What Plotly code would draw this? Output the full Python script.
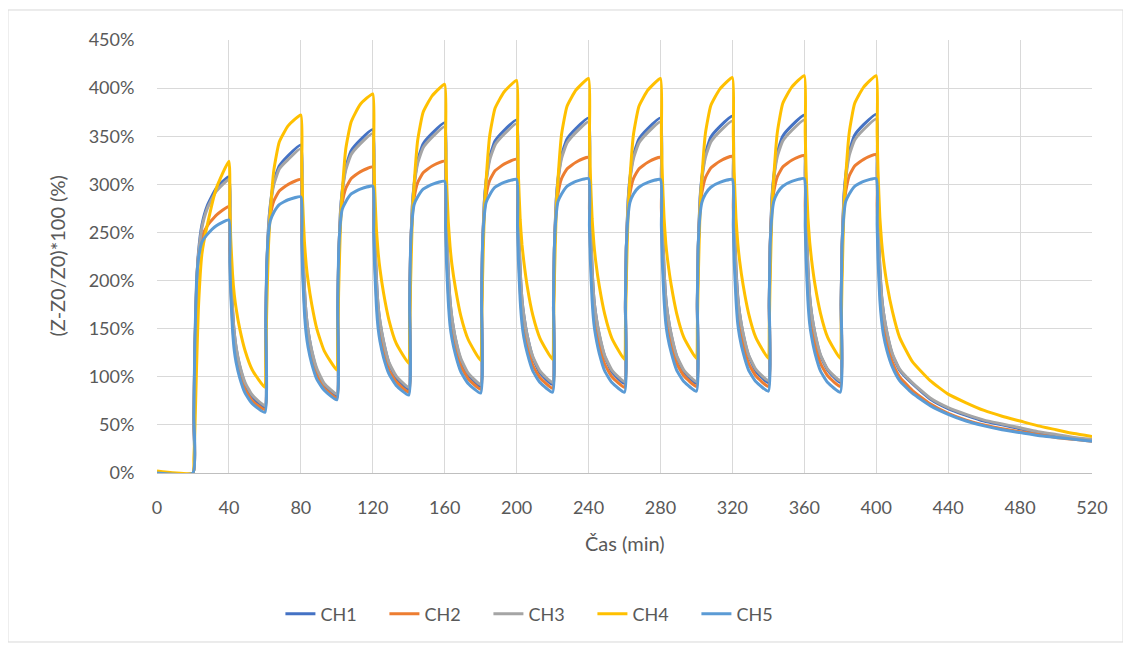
import plotly.graph_objects as go

# Time axis (minutes)
t_min = [0,
 20, 20.5, 21, 22, 23, 25, 28, 33, 40, 40.5, 41, 42, 43, 44, 46, 49, 53,
 60, 60.5, 61, 62, 63, 65, 68, 73, 80, 80.5, 81, 82, 83, 84, 86, 89, 93,
 100, 100.5, 101, 102, 103, 105, 108, 113, 120, 120.5, 121, 122, 123, 124, 126, 129, 133,
 140, 140.5, 141, 142, 143, 145, 148, 153, 160, 160.5, 161, 162, 163, 164, 166, 169, 173,
 180, 180.5, 181, 182, 183, 185, 188, 193, 200, 200.5, 201, 202, 203, 204, 206, 209, 213,
 220, 220.5, 221, 222, 223, 225, 228, 233, 240, 240.5, 241, 242, 243, 244, 246, 249, 253,
 260, 260.5, 261, 262, 263, 265, 268, 273, 280, 280.5, 281, 282, 283, 284, 286, 289, 293,
 300, 300.5, 301, 302, 303, 305, 308, 313, 320, 320.5, 321, 322, 323, 324, 326, 329, 333,
 340, 340.5, 341, 342, 343, 345, 348, 353, 360, 360.5, 361, 362, 363, 364, 366, 369, 373,
 380, 380.5, 381, 382, 383, 385, 388, 393, 400, 400.5, 401, 402, 403, 404, 406, 409, 413,
 420, 430, 440, 450, 460, 470, 480, 490, 500, 510, 520]

# (Z-Z0/Z0)*100 in %
ch1 = [0,
 0, 50, 120, 192, 228, 258, 278, 296, 308, 255, 217, 171, 145, 130, 111, 92, 79,
 68, 147, 207, 256, 278, 303, 319, 330, 341, 284, 242, 192, 164, 148, 127, 106, 92,
 80, 160, 221, 271, 293, 318, 335, 346, 357, 298, 254, 203, 173, 157, 136, 114, 99,
 87, 167, 228, 278, 300, 325, 342, 353, 364, 304, 260, 208, 178, 161, 139, 117, 102,
 90, 170, 231, 281, 303, 328, 345, 356, 367, 307, 263, 210, 180, 164, 142, 120, 104,
 92, 172, 233, 283, 305, 330, 347, 358, 369, 308, 264, 212, 181, 165, 143, 121, 105,
 93, 173, 234, 283, 306, 330, 347, 358, 369, 308, 264, 212, 181, 165, 143, 121, 105,
 93, 174, 235, 285, 307, 332, 349, 360, 371, 310, 266, 213, 183, 166, 144, 122, 106,
 94, 175, 236, 286, 308, 333, 350, 361, 372, 311, 266, 214, 183, 166, 144, 122, 107,
 94, 175, 236, 287, 309, 334, 351, 362, 373, 312, 267, 214, 184, 167, 145, 123, 107,
 93, 77, 67, 60, 54, 50, 46, 42, 39, 36, 34]

ch2 = [1,
 0, 55, 125, 195, 225, 245, 257, 268, 277, 231, 197, 157, 134, 121, 104, 87, 75,
 66, 152, 209, 250, 267, 283, 293, 300, 305, 255, 219, 176, 151, 137, 119, 101, 88,
 78, 164, 222, 263, 280, 296, 306, 313, 318, 267, 229, 185, 159, 145, 126, 107, 95,
 84, 170, 228, 269, 286, 302, 312, 319, 324, 272, 234, 189, 163, 149, 130, 111, 98,
 87, 173, 230, 271, 288, 304, 314, 321, 326, 274, 236, 190, 164, 150, 131, 112, 99,
 88, 174, 232, 273, 290, 306, 316, 323, 328, 275, 237, 192, 165, 151, 132, 113, 100,
 89, 175, 232, 273, 290, 306, 316, 323, 328, 276, 238, 192, 166, 152, 133, 114, 101,
 90, 176, 233, 274, 291, 307, 317, 324, 329, 276, 238, 193, 166, 152, 133, 114, 101,
 90, 176, 234, 275, 292, 308, 318, 325, 330, 277, 239, 193, 167, 152, 133, 114, 101,
 90, 177, 235, 276, 292, 309, 319, 326, 331, 278, 240, 194, 168, 153, 134, 115, 100,
 86, 72, 62, 55, 50, 46, 43, 40, 37, 35, 33]

ch3 = [0,
 0, 50, 120, 190, 225, 255, 275, 293, 305, 253, 216, 171, 145, 131, 112, 94, 81,
 70, 147, 206, 254, 276, 300, 316, 326, 337, 281, 240, 192, 164, 148, 128, 108, 93,
 82, 161, 220, 269, 291, 315, 331, 342, 353, 295, 253, 203, 173, 158, 137, 115, 101,
 89, 168, 227, 276, 298, 322, 338, 349, 360, 301, 258, 207, 178, 162, 140, 119, 104,
 92, 171, 230, 279, 301, 325, 341, 352, 363, 304, 261, 210, 180, 164, 142, 121, 106,
 94, 173, 232, 281, 303, 327, 343, 354, 365, 306, 262, 211, 181, 165, 144, 122, 107,
 95, 173, 233, 281, 303, 327, 343, 354, 365, 306, 262, 211, 181, 165, 144, 122, 107,
 95, 174, 233, 282, 304, 328, 344, 355, 366, 307, 263, 212, 182, 166, 145, 123, 108,
 96, 175, 234, 283, 305, 329, 345, 356, 367, 307, 264, 213, 183, 166, 145, 123, 108,
 96, 175, 235, 284, 305, 330, 346, 357, 368, 308, 265, 213, 183, 167, 146, 124, 108,
 94, 78, 68, 61, 55, 51, 47, 43, 40, 37, 35]

ch4 = [2,
 0, 15, 40, 110, 170, 228, 258, 296, 324, 277, 244, 207, 185, 171, 150, 127, 107,
 89, 120, 168, 236, 270, 315, 344, 361, 372, 319, 282, 240, 216, 200, 176, 149, 127,
 107, 139, 187, 256, 291, 337, 365, 383, 394, 338, 299, 254, 229, 212, 187, 159, 135,
 114, 146, 195, 265, 300, 346, 375, 392, 404, 347, 306, 261, 235, 217, 192, 163, 139,
 117, 149, 198, 268, 303, 350, 379, 396, 408, 350, 309, 263, 237, 220, 193, 164, 140,
 118, 150, 200, 270, 305, 352, 381, 398, 410, 352, 311, 264, 238, 220, 194, 165, 140,
 118, 150, 200, 270, 305, 352, 381, 398, 410, 352, 311, 265, 238, 221, 195, 166, 141,
 119, 151, 201, 271, 306, 353, 382, 399, 411, 353, 312, 265, 239, 221, 195, 166, 141,
 119, 151, 201, 272, 307, 354, 384, 401, 413, 354, 313, 266, 240, 222, 195, 166, 141,
 119, 151, 201, 272, 307, 354, 384, 401, 413, 354, 313, 266, 240, 222, 196, 168, 141,
 116, 96, 82, 73, 65, 59, 54, 49, 45, 41, 38]

ch5 = [0,
 0, 60, 130, 200, 222, 240, 248, 257, 263, 219, 187, 149, 127, 115, 99, 83, 72,
 63, 159, 215, 249, 262, 271, 279, 284, 287, 241, 207, 167, 144, 131, 114, 97, 86,
 76, 171, 227, 260, 274, 282, 290, 295, 298, 250, 216, 174, 150, 137, 120, 103, 91,
 81, 176, 232, 265, 279, 287, 295, 300, 303, 255, 219, 178, 153, 140, 123, 105, 93,
 83, 178, 234, 267, 281, 289, 297, 302, 305, 256, 221, 179, 155, 141, 124, 106, 94,
 84, 179, 235, 268, 282, 290, 298, 303, 306, 257, 222, 179, 155, 142, 124, 106, 94,
 84, 179, 234, 267, 281, 290, 297, 302, 305, 257, 221, 180, 155, 142, 125, 107, 95,
 85, 180, 235, 268, 281, 290, 297, 302, 305, 257, 221, 180, 155, 142, 125, 107, 95,
 85, 180, 235, 268, 282, 291, 298, 303, 306, 257, 222, 179, 155, 142, 124, 106, 94,
 84, 179, 235, 268, 282, 290, 298, 303, 306, 258, 222, 180, 158, 144, 127, 110, 96,
 83, 70, 61, 54, 49, 45, 42, 39, 37, 35, 33]

series_names = ["CH1", "CH2", "CH3", "CH4", "CH5"]
series_values = [ch1, ch2, ch3, ch4, ch5]
series_colors = ["#4472C4", "#ED7D31", "#A5A5A5", "#FFC000", "#5B9BD5"]

x_ticks = [0, 40, 80, 120, 160, 200, 240, 280, 320, 360, 400, 440, 480, 520]
y_ticks = [0, 50, 100, 150, 200, 250, 300, 350, 400, 450]
y_ticktext = [f"{v}%" for v in y_ticks]

FONT = "Lato, 'Open Sans', sans-serif"
TXT = "#595959"
GRID = "#D9D9D9"

fig = go.Figure()
for name, vals, col in zip(series_names, series_values, series_colors):
    fig.add_trace(go.Scatter(x=t_min, y=vals, mode="lines", name=name,
                             line=dict(color=col, width=3, shape="spline", smoothing=0.45),
                             hoverinfo="skip"))

fig.update_layout(
    width=1131, height=646,
    margin=dict(l=149, r=47, t=32, b=181),
    paper_bgcolor="white", plot_bgcolor="white",
    font=dict(family=FONT, color=TXT, size=18),
    showlegend=True,
    legend=dict(orientation="h", x=0.132, xanchor="left", y=-0.3256, yanchor="middle",
                font=dict(family=FONT, size=18, color=TXT),
                entrywidth=59, entrywidthmode="pixels", traceorder="normal"),
    xaxis=dict(range=[0, 520], tickvals=x_ticks, showgrid=True, gridcolor=GRID, gridwidth=1,
               zeroline=False, showline=True, linecolor="#BFBFBF", linewidth=1,
               ticks="outside", ticklen=18, tickcolor="rgba(0,0,0,0)",
               tickfont=dict(family=FONT, size=18, color=TXT)),
    yaxis=dict(range=[0, 450], tickvals=y_ticks, ticktext=y_ticktext, showgrid=True,
               gridcolor=GRID, gridwidth=1, zeroline=False, showline=False,
               ticks="outside", ticklen=18, tickcolor="rgba(0,0,0,0)",
               tickfont=dict(family=FONT, size=18, color=TXT)),
    annotations=[
        dict(text="Čas (min)", xref="paper", yref="paper", x=0.5, y=-0.1617,
             xanchor="center", yanchor="middle", showarrow=False,
             font=dict(family=FONT, size=20, color=TXT)),
        dict(text="(Z-Z0/Z0)*100 (%)", xref="paper", yref="paper", x=-0.1080, y=0.5,
             xanchor="center", yanchor="middle", showarrow=False, textangle=-90,
             font=dict(family=FONT, size=20, color=TXT)),
    ],
    shapes=[dict(type="rect", xref="paper", yref="paper", x0=-0.1594, x1=1.0332,
                 y0=-0.3903, y1=1.0693, line=dict(color="#D9D9D9", width=1),
                 fillcolor="rgba(0,0,0,0)", layer="below")],
)

fig.write_html("out.html")
